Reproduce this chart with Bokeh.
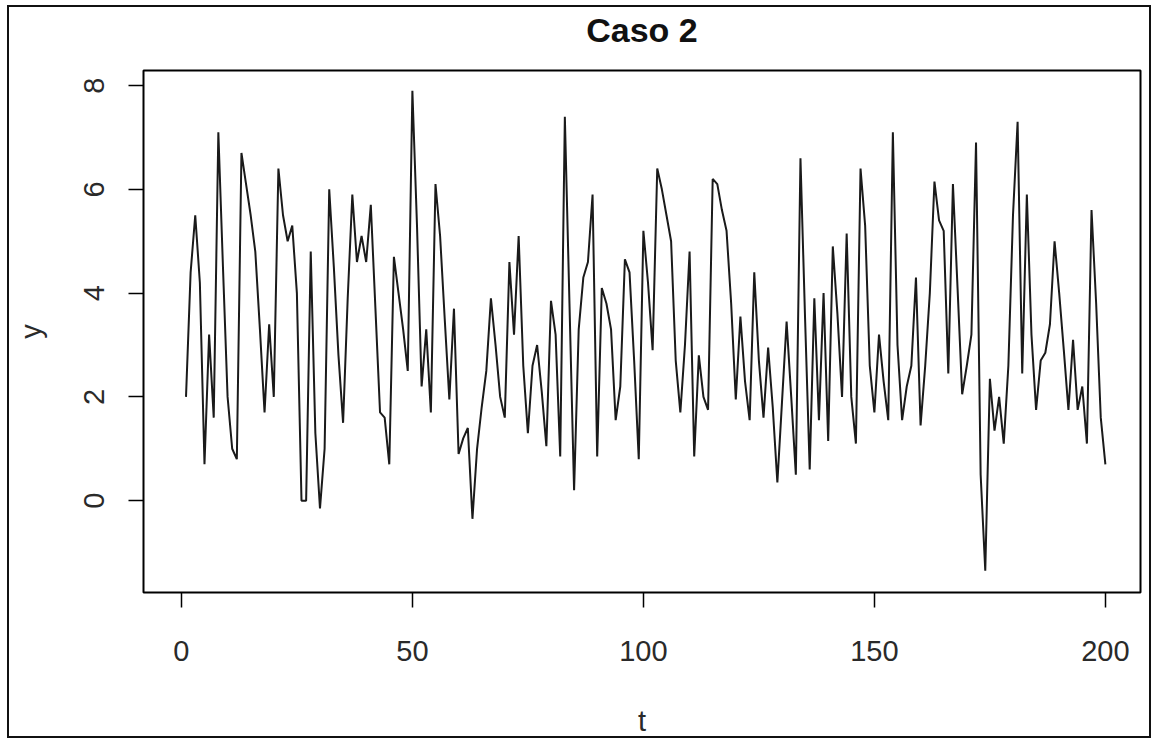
from bokeh.plotting import figure
from bokeh.models import FixedTicker, Range1d, InlineStyleSheet, LinearAxis
from bokeh.embed import file_html
from bokeh.resources import INLINE

# ---- data ----
t = list(range(1, 201))
y = [
    2.0, 4.4, 5.5, 4.2, 0.7, 3.2, 1.6, 7.1, 4.5, 2.0,
    1.0, 0.8, 6.7, 6.1, 5.5, 4.8, 3.3, 1.7, 3.4, 2.0,
    6.4, 5.5, 5.0, 5.3, 4.0, 0.0, 0.0, 4.8, 1.3, -0.15,
    1.0, 6.0, 4.5, 2.8, 1.5, 3.9, 5.9, 4.6, 5.1, 4.6,
    5.7, 3.7, 1.7, 1.6, 0.7, 4.7, 4.0, 3.3, 2.5, 7.9,
    5.3, 2.2, 3.3, 1.7, 6.1, 5.1, 3.5, 1.95, 3.7, 0.9,
    1.2, 1.4, -0.35, 1.0, 1.8, 2.5, 3.9, 3.0, 2.0, 1.6,
    4.6, 3.2, 5.1, 2.6, 1.3, 2.6, 3.0, 2.1, 1.05, 3.85,
    3.2, 0.85, 7.4, 3.8, 0.2, 3.3, 4.3, 4.6, 5.9, 0.85,
    4.1, 3.8, 3.3, 1.55, 2.2, 4.65, 4.4, 2.7, 0.8, 5.2,
    4.2, 2.9, 6.4, 6.0, 5.5, 5.0, 2.7, 1.7, 3.0, 4.8,
    0.85, 2.8, 2.0, 1.75, 6.2, 6.1, 5.6, 5.2, 3.8, 1.95,
    3.55, 2.3, 1.55, 4.4, 2.7, 1.6, 2.95, 1.8, 0.35, 1.9,
    3.45, 2.0, 0.5, 6.6, 3.5, 0.6, 3.9, 1.55, 4.0, 1.15,
    4.9, 3.6, 2.0, 5.15, 2.0, 1.1, 6.4, 5.3, 2.6, 1.7,
    3.2, 2.3, 1.55, 7.1, 3.0, 1.55, 2.2, 2.6, 4.3, 1.45,
    2.6, 4.0, 6.15, 5.4, 5.2, 2.45, 6.1, 4.1, 2.05, 2.6,
    3.2, 6.9, 0.5, -1.35, 2.35, 1.35, 2.0, 1.1, 2.6, 5.5,
    7.3, 2.45, 5.9, 3.2, 1.75, 2.7, 2.85, 3.4, 5.0, 4.0,
    2.9, 1.75, 3.1, 1.75, 2.2, 1.1, 5.6, 3.8, 1.6, 0.7,
]
x_ticks = [0, 50, 100, 150, 200]
y_ticks = [0, 2, 4, 6, 8]
title_text = "Caso 2"
x_label = "t"
y_label = "y"

FONT = "Liberation Sans"
TXT = "#2a2a2a"

p = figure(
    width=1159, height=740,
    output_backend="svg", toolbar_location=None,
    x_range=Range1d(-8.2, 207.6), y_range=Range1d(-1.77, 8.29),
    min_border_left=143, min_border_right=19,
    min_border_top=70, min_border_bottom=148,
)
p.background_fill_color = "white"
p.border_fill_color = "white"
p.grid.visible = False
p.outline_line_color = "black"
p.outline_line_width = 2

p.line(t, y, line_color="#1a1a1a", line_width=2.0)

for ax, ticks in ((p.xaxis[0], x_ticks), (p.yaxis[0], y_ticks)):
    ax.ticker = FixedTicker(ticks=ticks)
    ax.minor_tick_line_color = None
    ax.axis_line_color = None
    ax.major_tick_out = 15
    ax.major_tick_in = 0
    ax.major_tick_line_color = "black"
    ax.major_tick_line_width = 1.5
    ax.major_label_text_font = FONT
    ax.major_label_text_font_size = "29px"
    ax.major_label_text_color = TXT
    ax.axis_label_text_font = FONT
    ax.axis_label_text_font_size = "29px"
    ax.axis_label_text_font_style = "normal"
    ax.axis_label_text_color = TXT

p.xaxis.axis_label = x_label
p.xaxis.major_label_standoff = 33
p.xaxis.axis_label_standoff = 41
p.yaxis.axis_label = y_label
p.yaxis.major_label_orientation = "vertical"
p.yaxis.major_label_standoff = 24
p.yaxis.axis_label_standoff = 35

# main title, carried by a tick-less axis above the frame
top_ax = LinearAxis(
    axis_label=title_text, ticker=FixedTicker(ticks=[]),
    axis_line_color=None, major_tick_line_color=None, minor_tick_line_color=None,
    major_label_text_font_size="0px",
    axis_label_text_font=FONT, axis_label_text_font_size="34px",
    axis_label_text_font_style="bold", axis_label_text_color="#111111",
    axis_label_standoff=22,
)
p.add_layout(top_ax, "above")

# outer border of the whole picture (drawn over the canvas)
p.stylesheets = [InlineStyleSheet(css="""
:host { position: relative; }
:host::after {
  content: ""; position: absolute;
  left: 7px; top: 5px; right: 8px; bottom: 2px;
  border: 2px solid #111; pointer-events: none; z-index: 100;
}
""")]

open("out.html", "w").write(file_html(p, INLINE))
